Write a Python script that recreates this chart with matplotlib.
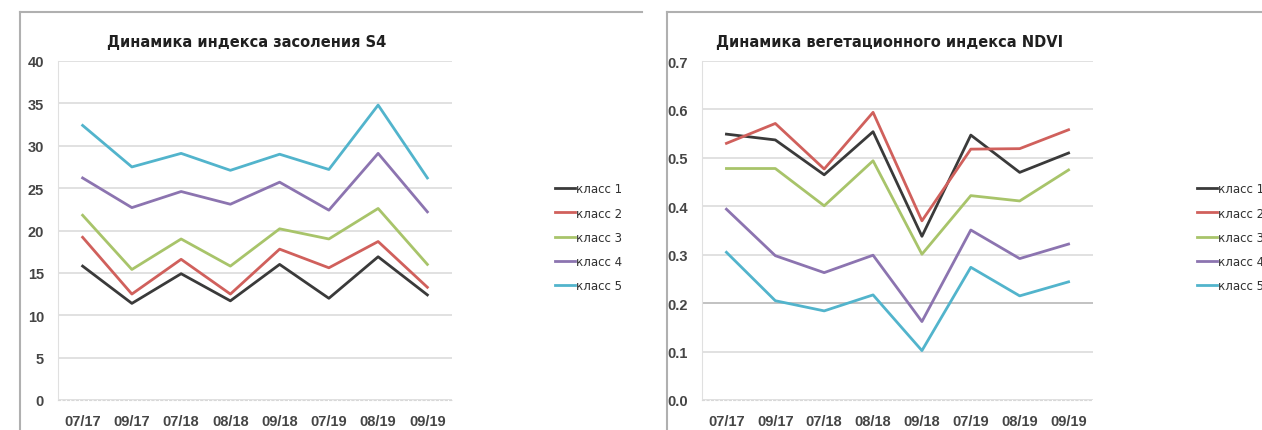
import matplotlib.pyplot as plt
from matplotlib.lines import Line2D
import numpy as np

# ------ data ------
dates = ['07/17', '09/17', '07/18', '08/18', '09/18', '07/19', '08/19', '09/19']
classes = ['класс 1', 'класс 2', 'класс 3', 'класс 4', 'класс 5']

s4_k1 = [15.8, 11.4, 14.9, 11.7, 16.0, 12.0, 16.9, 12.4]
s4_k2 = [19.2, 12.5, 16.6, 12.5, 17.8, 15.6, 18.7, 13.3]
s4_k3 = [21.8, 15.4, 19.0, 15.8, 20.2, 19.0, 22.6, 16.0]
s4_k4 = [26.2, 22.7, 24.6, 23.1, 25.7, 22.4, 29.1, 22.2]
s4_k5 = [32.4, 27.5, 29.1, 27.1, 29.0, 27.2, 34.8, 26.2]

ndvi_k1 = [0.549, 0.537, 0.465, 0.554, 0.338, 0.547, 0.470, 0.510]
ndvi_k2 = [0.530, 0.571, 0.477, 0.594, 0.370, 0.518, 0.519, 0.558]
ndvi_k3 = [0.478, 0.478, 0.401, 0.494, 0.301, 0.422, 0.411, 0.475]
ndvi_k4 = [0.394, 0.298, 0.263, 0.299, 0.162, 0.351, 0.292, 0.322]
ndvi_k5 = [0.305, 0.205, 0.184, 0.217, 0.102, 0.274, 0.215, 0.244]

colors = ['#3a3a3a', '#d0605c', '#a8c46a', '#8c74b0', '#52b4cc']
tick_font = ['Liberation Sans', 'DejaVu Sans']

W, H = 1262, 431
fig = plt.figure(figsize=(W / 100, H / 100), dpi=100)

# panel frames (top and left edges only, like the screenshot)
for x0, x1 in [(20, 642), (667, 1262)]:
    fig.lines.append(Line2D([x0 / W, x1 / W], [1 - 13 / H, 1 - 13 / H],
                            transform=fig.transFigure, color='#b0b0b0', lw=1.5))
    fig.lines.append(Line2D([x0 / W, x0 / W], [0, 1 - 13 / H],
                            transform=fig.transFigure, color='#b0b0b0', lw=1.5))


def draw_panel(rect, series, title, ylim, yticks, yfmt, leg_x, title_x):
    ax = fig.add_axes(rect)
    x = np.arange(len(dates))
    for vals, c, name in zip(series, colors, classes):
        ax.plot(x, vals, color=c, lw=2, label=name)
    ax.set_xlim(-0.5, len(dates) - 0.5)
    ax.set_ylim(*ylim)
    ax.set_yticks(yticks)
    ax.set_yticklabels([yfmt.format(t) for t in yticks])
    ax.set_xticks(x)
    ax.set_xticklabels(dates)
    ax.grid(axis='y', color='#dcdcdc', lw=1.2)
    ax.set_axisbelow(True)
    for s in ['top', 'right']:
        ax.spines[s].set_visible(False)
    ax.spines['left'].set_color('#e0e0e0')
    ax.spines['bottom'].set_color('#d8d8d8')
    ax.spines['bottom'].set_linestyle((0, (2, 2)))
    ax.tick_params(length=0, labelsize=10.5, colors='#454545')
    ax.tick_params(axis='x', pad=10)
    ax.tick_params(axis='y', pad=10)
    for lab in ax.get_xticklabels() + ax.get_yticklabels():
        lab.set_fontweight('bold')
        lab.set_family(tick_font)
    fig.text(title_x, 1 - 42 / H, title, ha='center', va='center',
             fontsize=10.5, fontweight='bold', color='#202020')
    leg = ax.legend(loc='center left', bbox_to_anchor=(leg_x, 0.48), frameon=False,
                    fontsize=8.5, handlelength=1.7, handletextpad=0.05,
                    labelspacing=0.95, borderaxespad=0)
    for t in leg.get_texts():
        t.set_color('#303030')
    return ax


draw_panel([58 / W, 30 / H, 394 / W, 339 / H],
           [s4_k1, s4_k2, s4_k3, s4_k4, s4_k5],
           'Динамика индекса засоления S4', (0, 40), range(0, 41, 5), '{}',
           1.25, 247 / W)

ax2 = draw_panel([702 / W, 30 / H, 391 / W, 339 / H],
                 [ndvi_k1, ndvi_k2, ndvi_k3, ndvi_k4, ndvi_k5],
                 'Динамика вегетационного индекса NDVI', (0, 0.7),
                 np.arange(0, 0.71, 0.1), '{:.1f}', 1.255, 890 / W)
ax2.get_ygridlines()[2].set_color('#b8b8b8')

plt.savefig('out.png', dpi=100)
